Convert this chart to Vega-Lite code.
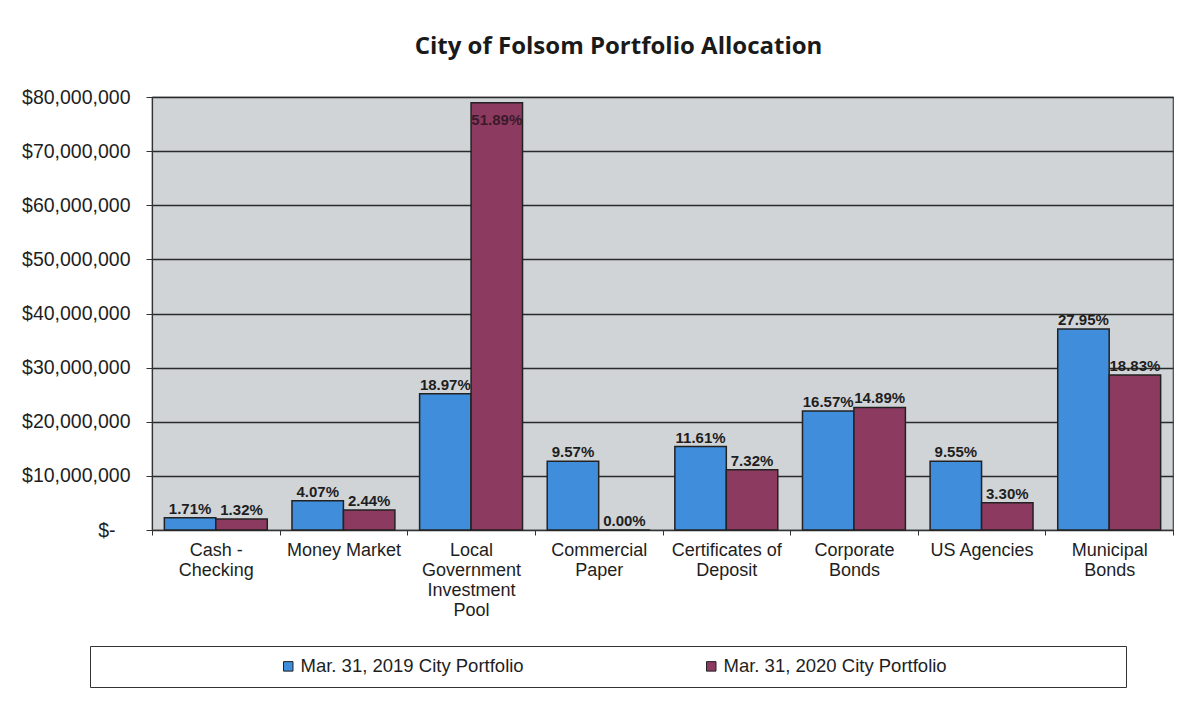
{
  "$schema": "https://vega.github.io/schema/vega-lite/v6.json",
  "width": 1021,
  "height": 433,
  "autosize": {"type": "none"},
  "padding": {"left": 152, "top": 97, "right": 28, "bottom": 191},
  "background": "white",
  "title": {
    "text": "City of Folsom Portfolio Allocation",
    "font": "Open Sans",
    "fontSize": 24,
    "fontWeight": "bold",
    "color": "#1a1a1a",
    "anchor": "middle",
    "offset": 28,
    "dx": -44
  },
  "config": {
    "view": {"fill": "#d0d4d7", "stroke": "#444", "strokeWidth": 1.2},
    "axis": {"labelFont": "Liberation Sans", "labelColor": "#1e1e1e"}
  },
  "data": {
    "values": [
      {"category": "Cash - Checking", "series": "Mar. 31, 2019 City Portfolio", "value": 2270000, "pct": "1.71%"},
      {"category": "Cash - Checking", "series": "Mar. 31, 2020 City Portfolio", "value": 2010000, "pct": "1.32%"},
      {"category": "Money Market", "series": "Mar. 31, 2019 City Portfolio", "value": 5400000, "pct": "4.07%"},
      {"category": "Money Market", "series": "Mar. 31, 2020 City Portfolio", "value": 3710000, "pct": "2.44%"},
      {"category": "Local Government Investment Pool", "series": "Mar. 31, 2019 City Portfolio", "value": 25190000, "pct": "18.97%"},
      {"category": "Local Government Investment Pool", "series": "Mar. 31, 2020 City Portfolio", "value": 78930000, "pct": "51.89%"},
      {"category": "Commercial Paper", "series": "Mar. 31, 2019 City Portfolio", "value": 12710000, "pct": "9.57%"},
      {"category": "Commercial Paper", "series": "Mar. 31, 2020 City Portfolio", "value": 0, "pct": "0.00%"},
      {"category": "Certificates of Deposit", "series": "Mar. 31, 2019 City Portfolio", "value": 15420000, "pct": "11.61%"},
      {"category": "Certificates of Deposit", "series": "Mar. 31, 2020 City Portfolio", "value": 11130000, "pct": "7.32%"},
      {"category": "Corporate Bonds", "series": "Mar. 31, 2019 City Portfolio", "value": 22000000, "pct": "16.57%"},
      {"category": "Corporate Bonds", "series": "Mar. 31, 2020 City Portfolio", "value": 22650000, "pct": "14.89%"},
      {"category": "US Agencies", "series": "Mar. 31, 2019 City Portfolio", "value": 12680000, "pct": "9.55%"},
      {"category": "US Agencies", "series": "Mar. 31, 2020 City Portfolio", "value": 5020000, "pct": "3.30%"},
      {"category": "Municipal Bonds", "series": "Mar. 31, 2019 City Portfolio", "value": 37120000, "pct": "27.95%"},
      {"category": "Municipal Bonds", "series": "Mar. 31, 2020 City Portfolio", "value": 28640000, "pct": "18.83%"}
    ]
  },
  "encoding": {
    "x": {
      "field": "category",
      "type": "nominal",
      "sort": ["Cash - Checking", "Money Market", "Local Government Investment Pool", "Commercial Paper", "Certificates of Deposit", "Corporate Bonds", "US Agencies", "Municipal Bonds"],
      "scale": {"paddingInner": 0, "paddingOuter": 0},
      "axis": {
        "title": null,
        "labelAngle": 0,
        "labelFontSize": 18,
        "labelLineHeight": 20,
        "labelPadding": 6,
        "labelBaseline": "top",
        "tickBand": "extent",
        "tickSize": 5,
        "tickColor": "#333",
        "domainColor": "#333",
        "domainWidth": 1.2,
        "labelExpr": "datum.label == 'Cash - Checking' ? ['Cash -', 'Checking'] : datum.label == 'Local Government Investment Pool' ? ['Local', 'Government', 'Investment', 'Pool'] : datum.label == 'Commercial Paper' ? ['Commercial', 'Paper'] : datum.label == 'Certificates of Deposit' ? ['Certificates of', 'Deposit'] : datum.label == 'Corporate Bonds' ? ['Corporate', 'Bonds'] : datum.label == 'Municipal Bonds' ? ['Municipal', 'Bonds'] : datum.label"
      }
    },
    "xOffset": {
      "field": "series",
      "type": "nominal",
      "sort": ["Mar. 31, 2019 City Portfolio", "Mar. 31, 2020 City Portfolio"],
      "scale": {"paddingOuter": 0.24, "paddingInner": 0}
    },
    "y": {
      "field": "value",
      "type": "quantitative",
      "scale": {"domain": [0, 80000000], "nice": false},
      "axis": {
        "title": null,
        "values": [0, 10000000, 20000000, 30000000, 40000000, 50000000, 60000000, 70000000, 80000000],
        "labelExpr": "datum.value == 0 ? '$-\u2800' : '$' + format(datum.value, ',')",
        "labelFontSize": 19.5,
        "labelPadding": 16,
        "tickSize": 6,
        "tickColor": "#333",
        "domainColor": "#333",
        "domainWidth": 1.2,
        "gridColor": "#2a2a2a",
        "gridWidth": 1.3
      }
    }
  },
  "layer": [
    {
      "mark": {"type": "bar", "stroke": "#222", "strokeWidth": 1.5},
      "encoding": {
        "color": {
          "field": "series",
          "type": "nominal",
          "scale": {"domain": ["Mar. 31, 2019 City Portfolio", "Mar. 31, 2020 City Portfolio"], "range": ["#3f8ddb", "#8c3a60"]},
          "legend": {
            "title": ".",
            "titleColor": "white",
            "titleOrient": "left",
            "titlePadding": 173,
            "titleFontSize": 17,
            "titleFont": "Liberation Sans",
            "orient": "none",
            "legendX": -62,
            "legendY": 549,
            "direction": "horizontal",
            "columns": 2,
            "columnPadding": 10,
            "padding": 11,
            "strokeColor": "#333",
            "fillColor": "white",
            "symbolType": "square",
            "symbolSize": 90,
            "symbolStrokeColor": "#222",
            "symbolStrokeWidth": 1,
            "labelFont": "Liberation Sans",
            "labelFontSize": 18.5,
            "labelColor": "#1e1e1e",
            "labelLimit": 1000,
            "labelOffset": 3,
            "labelExpr": "datum.label + '\u2800\u2800\u2800\u2800\u2800\u2800\u2800\u2800\u2800\u2800\u2800\u2800'"
          }
        }
      }
    },
    {
      "transform": [{"filter": "datum.value < 70000000"}],
      "mark": {"type": "text", "font": "Liberation Sans", "fontWeight": "bold", "fontSize": 15, "color": "#1e1e1e", "baseline": "alphabetic", "dy": -4},
      "encoding": {"text": {"field": "pct"}}
    },
    {
      "transform": [{"filter": "datum.value >= 70000000"}],
      "mark": {"type": "text", "font": "Liberation Sans", "fontWeight": "bold", "fontSize": 15, "color": "#3a1a2a", "baseline": "top", "dy": 10},
      "encoding": {"text": {"field": "pct"}}
    }
  ]
}
